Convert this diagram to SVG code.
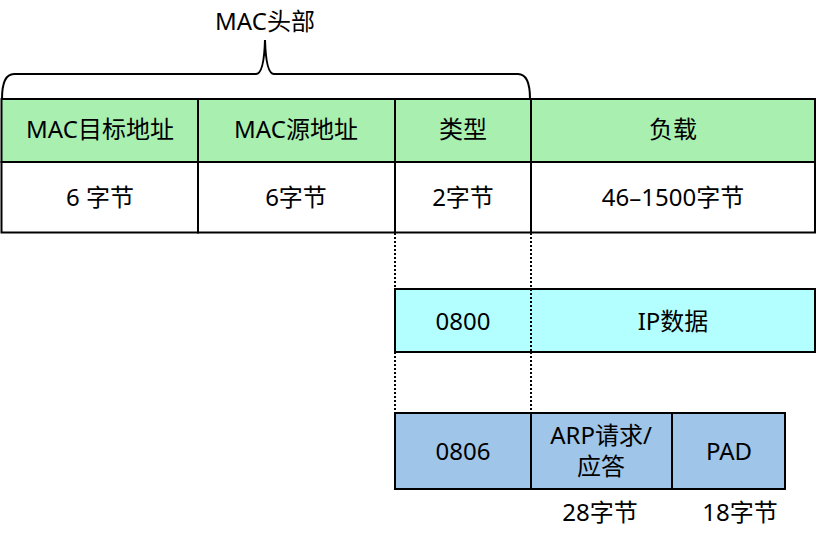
<svg xmlns="http://www.w3.org/2000/svg" width="819" height="543" viewBox="0 0 819 543">
<style>
text{font-family:"Noto Sans","Noto Sans CJK SC",sans-serif;font-size:24px;fill:#000;text-anchor:middle}
.cell{stroke:#000;stroke-width:2}
.g{fill:#a8efb0}
.w{fill:#ffffff}
.c{fill:#b3ffff}
.b{fill:#9fc5e8}
.dot{stroke:#000;stroke-width:2;stroke-dasharray:2 2;fill:none}
.sol{stroke:#000;stroke-width:2;fill:none}
</style>
<rect width="819" height="543" fill="#fff"/>
<g id="brace">
<text x="265" y="30">MAC头部</text>
<path class="sol" d="M2,99 Q2,74 14,74 L256,74 Q264,74 265,40 Q266,74 274,74 L518,74 Q530,74 530,99"/>
</g>
<g id="mac-dst">
<rect class="cell g" x="1.5" y="99" width="196.5" height="63"/>
<rect class="cell w" x="1.5" y="162" width="196.5" height="70.5"/>
<text x="100" y="138">MAC目标地址</text>
<text x="100" y="206">6 字节</text>
</g>
<g id="mac-src">
<rect class="cell g" x="198" y="99" width="197" height="63"/>
<rect class="cell w" x="198" y="162" width="197" height="70.5"/>
<text x="296" y="138">MAC源地址</text>
<text x="296" y="206">6字节</text>
</g>
<g id="type">
<rect class="cell g" x="395" y="99" width="136" height="63"/>
<rect class="cell w" x="395" y="162" width="136" height="70.5"/>
<text x="463" y="138">类型</text>
<text x="463" y="206">2字节</text>
</g>
<g id="payload">
<rect class="cell g" x="531" y="99" width="284" height="63"/>
<rect class="cell w" x="531" y="162" width="284" height="70.5"/>
<text x="673" y="138">负载</text>
<text x="673" y="206">46–1500字节</text>
</g>
<g id="ip-frame">
<rect class="cell c" x="395" y="289" width="420" height="63"/>
<text x="463" y="330">0800</text>
<text x="673" y="330">IP数据</text>
</g>
<g id="arp-frame">
<rect class="cell b" x="395" y="413" width="390" height="76"/>
<line class="sol" x1="531" y1="413" x2="531" y2="489"/>
<line class="sol" x1="672" y1="413" x2="672" y2="489"/>
<text x="463" y="460">0806</text>
<text x="601" y="444">ARP请求/</text>
<text x="601" y="475">应答</text>
<text x="729" y="460">PAD</text>
<text x="600" y="521">28字节</text>
<text x="740" y="521">18字节</text>
</g>
<g id="connectors">
<line class="dot" x1="395" y1="233" x2="395" y2="289"/>
<line class="dot" x1="531" y1="233" x2="531" y2="289"/>
<line class="dot" x1="531" y1="289" x2="531" y2="352"/>
<line class="dot" x1="395" y1="352" x2="395" y2="413"/>
<line class="dot" x1="531" y1="352" x2="531" y2="413"/>
</g>
</svg>
